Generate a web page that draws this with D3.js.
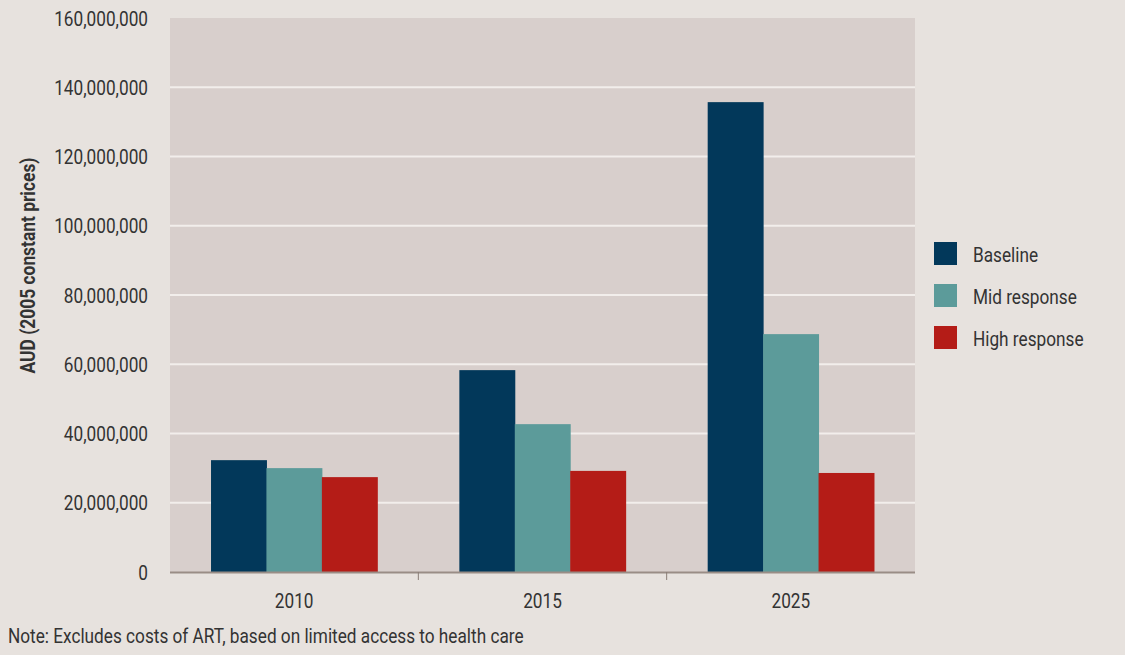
<!DOCTYPE html>
<html><head><meta charset="utf-8">
<script src="https://cdn.jsdelivr.net/npm/d3@7"></script>
<style>
html,body{margin:0;padding:0;background:#e7e2de;}
text{font-family:Roboto,"Liberation Sans",sans-serif;fill:#333;}
</style></head><body>
<svg id="c" width="1125" height="655"></svg>
<script>
const categories = ["2010", "2015", "2025"];
const seriesNames = ["Baseline", "Mid response", "High response"];
const baseline = [32300000, 58300000, 135700000];
const midResponse = [30000000, 42700000, 68700000];
const highResponse = [27400000, 29200000, 28600000];
const yTicks = [0, 20000000, 40000000, 60000000, 80000000, 100000000, 120000000, 140000000, 160000000];
const colors = ["#02385a", "#5c9b9a", "#b41c17"];
const values = [baseline, midResponse, highResponse];

const FS = 21;
const SX = 0.82;
const svg = d3.select("#c");
const m = {l:170, r:210, t:18, b:83};
const W = 1125, H = 655;
const iw = W - m.l - m.r, ih = H - m.t - m.b;
const g = svg.append("g").attr("transform", `translate(${m.l},${m.t})`);

function txt(parent, x, y, s, anchor, extra, sx) {
  return parent.append("text")
    .attr("transform", `translate(${x},${y}) ${extra || ""} scale(${sx || SX},1)`)
    .attr("text-anchor", anchor || "start")
    .attr("font-size", FS).text(s);
}

const x0 = d3.scaleBand().domain(categories).range([0, iw]).paddingInner(0).paddingOuter(0);
const x1 = d3.scaleBand().domain(seriesNames).range([0, x0.bandwidth()]).paddingOuter(0.74).paddingInner(0);
const y = d3.scaleLinear().domain([0, 160000000]).range([ih, 0]);

g.append("rect").attr("width", iw).attr("height", ih).attr("fill", "#d8cfcc");

g.selectAll(".grid").data(yTicks.filter(d => d > 0 && d < 160000000)).enter()
  .append("line").attr("x1", 0).attr("x2", iw)
  .attr("y1", d => y(d)).attr("y2", d => y(d))
  .attr("stroke", "#f2eeeb").attr("stroke-width", 2);

const grp = g.selectAll(".grp").data(categories).enter().append("g")
  .attr("transform", d => `translate(${x0(d)},0)`);
grp.selectAll("rect").data((d, i) => seriesNames.map((s, j) => ({s, v: values[j][i], j})))
  .enter().append("rect")
  .attr("x", d => x1(d.s)).attr("width", x1.bandwidth() + 0.5)
  .attr("y", d => y(d.v)).attr("height", d => ih - y(d.v))
  .attr("fill", d => colors[d.j]);

// x axis
const xa = g.append("g").attr("transform", `translate(0,${ih})`);
xa.append("line").attr("x1", 0).attr("x2", iw).attr("y1", 0.5).attr("y2", 0.5)
  .attr("stroke", "#9a8d86").attr("stroke-width", 2);
xa.selectAll(".tk").data(categories.slice(1)).enter().append("line")
  .attr("x1", d => x0(d)).attr("x2", d => x0(d)).attr("y1", 0).attr("y2", 8)
  .attr("stroke", "#8a7d76").attr("stroke-width", 1);
categories.forEach(c => txt(xa, x0(c) + x0.bandwidth()/2, 36, c, "middle"));

// y axis labels
const fmt = d3.format(",");
yTicks.forEach(t => txt(g, -22, y(t) + 7.5, fmt(t), "end"));

const yt = txt(svg, 34.5, 265.5, "AUD (2005 constant prices)", "middle", "rotate(-90)", 0.87);
yt.attr("font-weight", "bold").attr("font-size", 20);

// legend
const lg = svg.append("g").attr("transform", "translate(934,242)");
seriesNames.forEach((s, i) => {
  lg.append("rect").attr("x", 0).attr("y", i*42).attr("width", 23).attr("height", 23).attr("fill", colors[i]);
  txt(lg, 39, i*42 + 20, s, "start");
});

txt(svg, 8, 643, "Note: Excludes costs of ART, based on limited access to health care", "start");
</script>
</body></html>
